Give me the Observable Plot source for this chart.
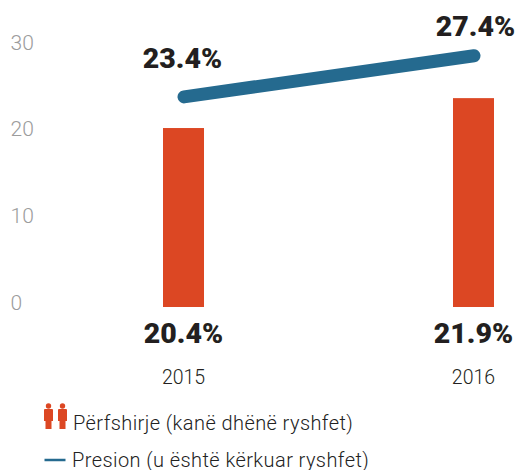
<!DOCTYPE html>
<html>
<head>
<meta charset="utf-8">
<script src="https://cdn.jsdelivr.net/npm/d3@7"></script>
<script src="https://cdn.jsdelivr.net/npm/@observablehq/plot@0.6"></script>
<style>
html,body{margin:0;padding:0;background:#fff;}
#wrap{position:relative;width:516px;height:470px;overflow:hidden;font-family:Roboto,sans-serif;}
.lg{position:absolute;color:#222;font-size:20px;line-height:20px;white-space:nowrap;font-weight:300;letter-spacing:.42px;}
svg.ic{position:absolute;}
</style>
</head>
<body>
<div id="wrap"></div>
<script>
const years = ["2015", "2016"];
const barHeights = [20.65, 24.1];
const lineHeights = [24.3, 29.05];
const barLabels = ["20.4%", "21.9%"];
const lineLabels = ["23.4%", "27.4%"];
const yTicks = [0, 10, 20, 30];
const legendBars = "Përfshirje (kanë dhënë ryshfet)";
const legendLine = "Presion (u është kërkuar ryshfet)";

const red = "#dc4723", blue = "#256a8f", ink = "#231f20";
const bars = years.map((year, i) => ({year, value: barHeights[i], label: barLabels[i]}));
const line = years.map((year, i) => ({year, value: lineHeights[i], label: lineLabels[i]}));
const bold = {text: "label", fill: ink, fontSize: 28.5, fontWeight: 900, fontFamily: "Roboto"};

const plot = Plot.plot({
  width: 516,
  height: 395,
  marginLeft: 0,
  marginRight: 0,
  marginTop: 47,
  marginBottom: 88,
  style: {background: "transparent", overflow: "visible"},
  x: {type: "band", domain: years, range: [47, 610], paddingInner: 0.8586, paddingOuter: 0.4, align: 0.5, round: false, label: null},
  y: {domain: [0, 30], range: [307, 47], label: null},
  marks: [
    Plot.axisY({ticks: yTicks, tickSize: 0, tickPadding: 0, textAnchor: "start", dx: 10, dy: -4.5, label: null,
      fill: "#9c9c9c", fontSize: 21, fontFamily: "Roboto", fontWeight: 300}),
    Plot.axisX({tickSize: 0, tickPadding: 0, dx: -0.5, dy: 63, label: null, fill: ink, fontSize: 19.5, fontFamily: "Roboto", fontWeight: 300}),
    Plot.barY(bars, {x: "year", y: "value", fill: red}),
    Plot.line(line, {x: "year", y: "value", stroke: blue, strokeWidth: 13, strokeLinecap: "round"}),
    Plot.text(line.slice(0, 1), {x: "year", y: "value", dx: -1.5, dy: -38.5, ...bold}),
    Plot.text(line.slice(1), {x: "year", y: "value", dx: 1.5, dy: -29, ...bold}),
    Plot.text(bars, {x: "year", y: () => 0, dy: 26, dx: -0.5, ...bold})
  ]
});
const wrap = document.getElementById("wrap");
wrap.appendChild(plot);

function legend(text, left, top) {
  const d = document.createElement("div");
  d.className = "lg";
  d.style.left = left + "px";
  d.style.top = top + "px";
  d.textContent = text;
  wrap.appendChild(d);
}
legend(legendBars, 73, 413);
legend(legendLine, 72, 449.5);

const NS = "http://www.w3.org/2000/svg";
const icon = document.createElementNS(NS, "svg");
icon.setAttribute("class", "ic");
icon.setAttribute("width", "32");
icon.setAttribute("height", "32");
icon.style.left = "40px";
icon.style.top = "400px";
const person = x => `<g fill="${red}"><circle cx="${x}" cy="6" r="2.7"/><path d="M${x-4.5} 10 q0 -1 1 -1 h7 q1 0 1 1 v11 h-1.5 v8 h-6 v-8 h-1.5 z"/></g>`;
icon.innerHTML = person(8.5) + person(22.5);
wrap.appendChild(icon);

const key = document.createElementNS(NS, "svg");
key.setAttribute("class", "ic");
key.setAttribute("width", "24");
key.setAttribute("height", "6");
key.style.left = "44px";
key.style.top = "457px";
key.innerHTML = `<line x1="0.5" x2="21.5" y1="3" y2="3" stroke="${blue}" stroke-width="2.5"/>`;
wrap.appendChild(key);
</script>
</body>
</html>
